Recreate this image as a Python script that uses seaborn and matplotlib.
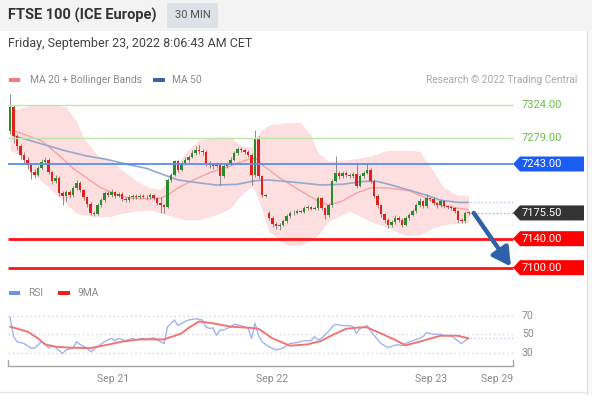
import matplotlib
matplotlib.use("Agg")
import numpy as np
import matplotlib.pyplot as plt
import seaborn as sns
from matplotlib.patches import Rectangle, Polygon

# -------------------------------------------------
# DATA (30 min candles)
# -------------------------------------------------
opens = [7288, 7322, 7281, 7268, 7256, 7249, 7242, 7232, 7228, 7237,
         7246, 7249, 7232, 7220, 7224, 7203, 7199, 7204, 7200, 7210,
         7217, 7207, 7197, 7188, 7175, 7174, 7186, 7193, 7203, 7200,
         7204, 7199, 7202, 7195, 7193, 7197, 7199, 7197, 7199, 7198,
         7197, 7200, 7196, 7189, 7186, 7184, 7221, 7228, 7247, 7235,
         7244, 7249, 7253, 7258, 7262, 7261, 7260, 7244, 7242, 7240,
         7243, 7226, 7240, 7243, 7249, 7258, 7264, 7262, 7260, 7256,
         7228, 7279, 7226, 7200, 7176, 7169, 7160, 7158, 7159, 7164,
         7171, 7175, 7176, 7178, 7177, 7182, 7183, 7181, 7182, 7196,
         7182, 7172, 7186, 7220, 7231, 7226, 7231, 7228, 7227, 7229,
         7213, 7226, 7231, 7235, 7220, 7199, 7186, 7174, 7166, 7159,
         7163, 7169, 7166, 7159, 7168, 7173, 7178, 7186, 7192, 7185,
         7196, 7195, 7189, 7186, 7192, 7185, 7184, 7182, 7178, 7166,
         7164, 7176]
closes = [7322, 7281, 7268, 7256, 7249, 7242, 7232, 7228, 7237, 7246,
          7249, 7232, 7220, 7224, 7203, 7199, 7204, 7200, 7210, 7217,
          7207, 7197, 7188, 7175, 7174, 7186, 7193, 7203, 7200, 7204,
          7199, 7202, 7195, 7193, 7197, 7199, 7197, 7199, 7198, 7197,
          7200, 7196, 7189, 7186, 7184, 7221, 7228, 7247, 7235, 7244,
          7249, 7253, 7258, 7262, 7261, 7260, 7244, 7242, 7240, 7243,
          7226, 7240, 7243, 7249, 7258, 7264, 7262, 7260, 7256, 7228,
          7279, 7226, 7200, 7199, 7169, 7160, 7158, 7159, 7164, 7171,
          7175, 7176, 7178, 7177, 7182, 7183, 7181, 7182, 7196, 7182,
          7172, 7186, 7220, 7231, 7226, 7231, 7228, 7227, 7229, 7213,
          7226, 7231, 7235, 7220, 7199, 7186, 7174, 7166, 7159, 7163,
          7169, 7166, 7159, 7168, 7173, 7178, 7186, 7192, 7185, 7196,
          7195, 7189, 7186, 7192, 7185, 7184, 7182, 7178, 7166, 7164,
          7176, 7175.5]
highs = [7340, 7325, 7284, 7270, 7259, 7252, 7245, 7236, 7240, 7250,
         7252, 7251, 7234, 7228, 7226, 7206, 7207, 7207, 7213, 7221,
         7219, 7209, 7199, 7190, 7178, 7189, 7196, 7206, 7206, 7208,
         7206, 7205, 7204, 7197, 7200, 7201, 7201, 7201, 7201, 7200,
         7203, 7202, 7198, 7197, 7188, 7224, 7231, 7249, 7249, 7247,
         7252, 7256, 7262, 7268, 7269, 7264, 7262, 7247, 7245, 7246,
         7245, 7243, 7246, 7252, 7261, 7267, 7266, 7264, 7262, 7258,
         7290, 7281, 7228, 7202, 7178, 7171, 7163, 7162, 7167, 7174,
         7178, 7179, 7181, 7180, 7185, 7186, 7185, 7185, 7199, 7198,
         7184, 7189, 7223, 7254, 7233, 7234, 7233, 7231, 7232, 7244,
         7229, 7234, 7244, 7237, 7222, 7201, 7188, 7176, 7168, 7166,
         7172, 7171, 7168, 7171, 7176, 7181, 7189, 7196, 7194, 7201,
         7198, 7197, 7191, 7195, 7194, 7187, 7186, 7184, 7180, 7168,
         7178, 7178]
lows = [7284, 7272, 7262, 7250, 7244, 7236, 7222, 7224, 7226, 7235,
        7243, 7229, 7216, 7217, 7199, 7186, 7192, 7196, 7198, 7207,
        7204, 7194, 7184, 7172, 7171, 7172, 7184, 7191, 7197, 7198,
        7196, 7197, 7192, 7190, 7191, 7195, 7195, 7195, 7196, 7194,
        7195, 7193, 7186, 7175, 7175, 7182, 7218, 7226, 7232, 7233,
        7242, 7246, 7251, 7255, 7257, 7256, 7240, 7238, 7236, 7237,
        7214, 7224, 7237, 7241, 7247, 7256, 7259, 7257, 7253, 7214,
        7225, 7222, 7197, 7197, 7166, 7156, 7154, 7152, 7157, 7162,
        7169, 7173, 7174, 7175, 7175, 7180, 7179, 7179, 7180, 7179,
        7167, 7170, 7184, 7218, 7223, 7224, 7225, 7224, 7224, 7210,
        7211, 7224, 7229, 7217, 7196, 7183, 7170, 7162, 7155, 7156,
        7160, 7163, 7156, 7157, 7166, 7171, 7176, 7184, 7182, 7183,
        7192, 7186, 7183, 7184, 7182, 7181, 7179, 7175, 7162, 7161,
        7162, 7173]

ma20_idx = [1, 4, 9, 14, 18, 23, 26, 31, 34, 39, 43, 45, 48, 52, 57, 61, 65,
            69, 71, 72, 77, 83, 88, 91, 95, 99, 103, 108, 114, 119, 123, 128, 131]
ma20 = [7289, 7284, 7275, 7255, 7237, 7220, 7210, 7200, 7196, 7195, 7196,
        7200, 7210, 7220, 7231, 7237, 7244, 7251, 7249, 7242, 7224, 7206,
        7192, 7186, 7192, 7203, 7210, 7210, 7206, 7196, 7186, 7182, 7180]

bb_idx = [0, 3, 7, 11, 16, 19, 21, 25, 29, 32, 36, 40, 43, 46, 50, 54, 59, 63,
          66, 69, 70, 72, 74, 79, 83, 86, 88, 91, 97, 103, 108, 113, 117, 121,
          124, 128, 131]
bb_upper = [7315, 7320, 7325, 7325, 7322, 7302, 7279, 7255, 7247, 7235, 7220,
            7210, 7208, 7224, 7258, 7276, 7280, 7280, 7268, 7266, 7278, 7290,
            7297, 7300, 7300, 7283, 7258, 7247, 7249, 7254, 7262, 7262, 7261,
            7233, 7210, 7200, 7199]
bb_lower = [7262, 7255, 7228, 7211, 7189, 7175, 7173, 7170, 7171, 7175, 7178,
            7180, 7175, 7171, 7166, 7166, 7173, 7182, 7200, 7212, 7207, 7180,
            7150, 7131, 7131, 7138, 7145, 7164, 7178, 7164, 7155, 7144, 7145,
            7155, 7159, 7162, 7162]

ma50_idx = [1, 6, 11, 16, 22, 28, 34, 39, 44, 48, 54, 59, 65, 70, 74, 83, 89,
            95, 101, 105, 109, 114, 119, 123, 128, 131]
ma50 = [7282, 7275, 7268, 7261, 7254, 7249, 7242, 7237, 7228, 7221, 7217,
        7214, 7215, 7220, 7221, 7217, 7214, 7215, 7219, 7219, 7214, 7207,
        7200, 7193, 7190, 7190]

rsi_idx = [0, 1, 2, 4, 6, 7, 9, 10, 11, 12, 13, 15, 16, 18, 19, 20, 22, 23,
           25, 27, 28, 29, 30, 31, 33, 35, 36, 38, 39, 41, 42, 44, 45, 46, 47,
           48, 50, 51, 53, 55, 56, 57, 58, 59, 60, 61, 63, 64, 66, 68, 69, 70,
           71, 72, 74, 76, 78, 80, 82, 84, 86, 87, 88, 89, 91, 92, 93, 95, 97,
           98, 99, 100, 101, 102, 104, 106, 108, 110, 111, 112, 113, 115, 117,
           118, 119, 121, 123, 124, 126, 127, 129, 130, 131]
rsi = [69, 47.5, 42, 40, 35, 35, 42, 40, 35, 38, 36, 29, 33, 35, 42, 39, 35,
       31, 36.5, 42, 44, 45.6, 43, 45.6, 43, 45.6, 44, 45.6, 44.5, 46.4, 44,
       40, 58, 62, 65.6, 59.5, 64, 65.6, 67, 65.6, 58, 56.5, 57, 49, 54.7,
       54.7, 58, 61, 59.5, 57, 45.6, 62, 49, 42, 36.5, 33, 35, 40, 41, 43, 43,
       47.5, 44, 45.6, 53, 58, 61, 59.5, 59.5, 58.4, 51, 56.5, 58, 59.5, 49,
       40, 35.5, 38, 38.7, 37.6, 40, 43, 45.6, 47.5, 52, 50, 50, 48.5, 48.5,
       45.6, 40, 43, 45.6]

ma9_idx = [0, 5, 8, 10, 13, 17, 23, 27, 32, 37, 44, 49, 51, 54, 58, 63, 69,
           71, 75, 80, 85, 89, 92, 96, 100, 102, 106, 110, 113, 117, 123, 128, 131]
ma9 = [58.4, 53, 45.6, 39, 36.5, 35.5, 35, 38, 42, 44.5, 44.5, 51, 57, 64, 62,
       58.4, 57, 56, 45.6, 37.6, 39, 43, 49, 56, 57.6, 57.6, 51, 44, 38, 42,
       48.5, 48.5, 45.6]

green_levels = [7324, 7279]
blue_level = 7243
red_levels = [7140, 7100]
rsi_levels = [70, 50, 30]
tick_idx = [29.5, 75, 120.3, 139.3]
tick_labels = ["Sep 21", "Sep 22", "Sep 23", "Sep 29"]

# -------------------------------------------------
# LAYOUT HELPERS (pixels -> figure / data)
# -------------------------------------------------
W, H = 592, 395
X0, PITCH = 10, 3.5          # pixel of candle 0, pixels per candle
PPU = 0.725                  # pixels per index point


def fx(px):
    return px / W


def fy(py):
    return 1 - py / H


def xi(px):
    return (px - X0) / PITCH


sns.set_theme(style="white")
plt.rcParams["font.family"] = ["Roboto", "DejaVu Sans"]

fig = plt.figure(figsize=(W / 100, H / 100), dpi=100)
fig.patch.set_facecolor("white")

# header band + card edges
fig.add_artist(Rectangle((0, fy(31)), 1, 31 / H, transform=fig.transFigure,
                         fc="#f3f3f3", ec="none", zorder=0))
fig.add_artist(Rectangle((fx(587), 0), 1, fy(31), transform=fig.transFigure,
                         fc="#f7f7f7", ec="none", zorder=0))
fig.add_artist(plt.Line2D([fx(587), fx(587)], [0, fy(31)], transform=fig.transFigure,
                          color="#e2e2e2", lw=1))
fig.add_artist(plt.Line2D([0, fx(587)], [fy(392), fy(392)], transform=fig.transFigure,
                          color="#e8e8e8", lw=1))
fig.add_artist(Rectangle((fx(167), fy(28)), 51 / W, 25 / H, transform=fig.transFigure,
                         fc="#dde1e8", ec="none", zorder=1))

fig.text(fx(8), fy(15), "FTSE 100 (ICE Europe)", fontsize=10.5, fontweight="bold",
         color="#333333", va="center")
fig.text(fx(192.5), fy(15.5), "30 MIN", fontsize=8, color="#555555", va="center", ha="center")
fig.text(fx(8), fy(44), "Friday, September 23, 2022 8:06:43 AM CET", fontsize=9,
         color="#444444", va="center")

# legends
fig.add_artist(Rectangle((fx(9), fy(82)), 11 / W, 4 / H, transform=fig.transFigure,
                         fc="#f47e7e", ec="none"))
fig.text(fx(30), fy(80), "MA 20 + Bollinger Bands", fontsize=7.4, color="#8a8a8a", va="center")
fig.add_artist(Rectangle((fx(153), fy(82)), 12 / W, 4 / H, transform=fig.transFigure,
                         fc="#3a62a8", ec="none"))
fig.text(fx(172), fy(80), "MA 50", fontsize=7.4, color="#8a8a8a", va="center")
fig.text(fx(577), fy(80), "Research \u00a9 2022 Trading Central", fontsize=7.4,
         color="#a8a8a8", va="center", ha="right")

fig.add_artist(Rectangle((fx(9), fy(295)), 11 / W, 4 / H, transform=fig.transFigure,
                         fc="#6f8fe8", ec="none"))
fig.text(fx(28), fy(293), "RSI", fontsize=7.4, color="#8a8a8a", va="center")
fig.add_artist(Rectangle((fx(58), fy(295)), 12 / W, 4 / H, transform=fig.transFigure,
                         fc="#f01e1e", ec="none"))
fig.text(fx(77), fy(293), "9MA", fontsize=7.4, color="#8a8a8a", va="center")

# -------------------------------------------------
# PRICE PANEL
# -------------------------------------------------
ax = fig.add_axes([fx(8), fy(280), (585 - 8) / W, (280 - 88) / H])
ax.set_xlim(xi(8), xi(585))
ax.set_ylim(7243 - (280 - 164) / PPU, 7243 + (164 - 88) / PPU)
ax.set_axis_off()

idx = np.arange(len(closes))
o = np.array(opens, dtype=float)
c = np.array(closes, dtype=float)
up = c >= o

ax.fill_between(bb_idx, bb_lower, bb_upper, color="#fddfdf", lw=0, zorder=1)
sns.lineplot(x=ma20_idx, y=ma20, ax=ax, color="#f5a3a3", lw=1.0, zorder=3)
sns.lineplot(x=ma50_idx, y=ma50, ax=ax, color="#93a9cf", lw=1.2, zorder=3)

ax.vlines(idx, lows, highs, color="#7a7a7a", lw=0.6, zorder=4)
body_lo = np.minimum(o, c)
body_h = np.maximum(np.abs(c - o), 0.9)
ax.bar(idx, body_h, bottom=body_lo, width=0.74,
       color=np.where(up, "#2b8a2b", "#e3201b"), lw=0, zorder=4)

line_end = xi(513)
ax.hlines(green_levels, xi(8), line_end, color="#bfe4ab", lw=1.0, zorder=5)
ax.hlines(blue_level, xi(8), line_end, color="#5b8cf2", lw=1.3, zorder=5)
ax.hlines(red_levels, xi(8), line_end, color="#ff1414", lw=2.0, zorder=5)

last_i = idx[-1]
ax.hlines(closes[-1], last_i + 0.5, line_end, color="#a0a0a0", lw=0.9,
          linestyles=(0, (1, 2)), zorder=5)
ax.hlines(ma50[-1], last_i + 0.5, line_end, color="#a8bde8", lw=0.9,
          linestyles=(0, (1, 2)), zorder=5)

for lv in green_levels:
    ax.text(xi(522), lv, f"{lv:.2f}", color="#6dbb45", fontsize=8, va="center", ha="left")


def price_tag(y, fc):
    hh = 7.5 / PPU
    pts = [[xi(513), y], [xi(520), y + hh], [xi(584), y + hh],
           [xi(584), y - hh], [xi(520), y - hh]]
    ax.add_patch(Polygon(pts, closed=True, fc=fc, ec="none", zorder=6))
    ax.text(xi(522), y, f"{y:.2f}", color="white", fontsize=8, va="center",
            ha="left", zorder=7)


price_tag(blue_level, "#1b5cf2")
price_tag(closes[-1], "#333333")
for lv in red_levels:
    price_tag(lv, "#ff0000")

ax.annotate("", xy=(xi(511), red_levels[-1] + 1.5), xytext=(last_i + 1.5, closes[-1]),
            arrowprops=dict(arrowstyle="-|>,head_length=1.1,head_width=0.6",
                            color="#2d62a8", lw=3.2, shrinkA=0, shrinkB=0,
                            mutation_scale=10),
            zorder=8)

# -------------------------------------------------
# RSI PANEL
# -------------------------------------------------
RPU = 0.917
ax2 = fig.add_axes([fx(8), fy(366), (585 - 8) / W, (366 - 300) / H])
ax2.set_xlim(xi(8), xi(585))
ax2.set_ylim(70 - (366 - 316) / RPU, 70 + (316 - 300) / RPU)
ax2.set_facecolor("none")

ax2.hlines(rsi_levels, xi(8), line_end, color="#cfcfcf", lw=0.9,
           linestyles=(0, (1, 2.5)), zorder=1)
ax2.hlines(rsi[-1], last_i + 0.5, line_end, color="#b5c7ef", lw=0.9,
           linestyles=(0, (1, 2)), zorder=1)
sns.lineplot(x=rsi_idx, y=rsi, ax=ax2, color="#9fb5f2", lw=1.0, zorder=2)
sns.lineplot(x=ma9_idx, y=ma9, ax=ax2, color="#f27575", lw=1.4, zorder=3)
for lv in rsi_levels:
    ax2.text(xi(522), lv, str(lv), color="#8a8a8a", fontsize=7.5, va="center", ha="left")

for s in ["top", "right", "left"]:
    ax2.spines[s].set_visible(False)
ax2.spines["bottom"].set_color("#a5a5a5")
ax2.spines["bottom"].set_linewidth(1.0)
ax2.spines["bottom"].set_bounds(xi(8), line_end)
y_bot = ax2.get_ylim()[0]
for xe in (xi(8), line_end):
    ax2.plot([xe, xe], [y_bot, y_bot + 6 / RPU], color="#a5a5a5", lw=1.0, clip_on=False)

ax2.set_yticks([])
ax2.set_xticks(tick_idx)
ax2.set_xticklabels(tick_labels)
ax2.tick_params(axis="x", length=0, pad=6, labelsize=7.6, labelcolor="#8a8a8a")
ax2.grid(False)

fig.savefig("out.png", dpi=100)
